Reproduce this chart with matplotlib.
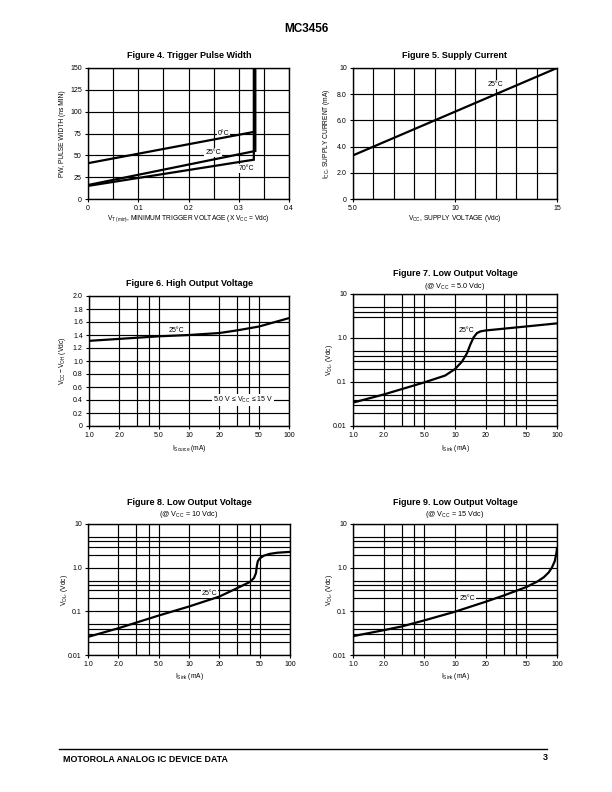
import matplotlib
matplotlib.use('Agg')
import matplotlib.pyplot as plt
from matplotlib.ticker import FixedLocator, NullFormatter

plt.rcParams['font.family'] = ['Liberation Sans', 'DejaVu Sans']
plt.rcParams['mathtext.fontset'] = 'custom'
plt.rcParams['mathtext.rm'] = 'Liberation Sans'
plt.rcParams['mathtext.it'] = 'Liberation Sans:italic'
plt.rcParams['mathtext.bf'] = 'Liberation Sans:bold'

# ---------------- data ----------------
# Figure 4: Trigger pulse width vs minimum trigger voltage
fig4_x_0C = [0.0, 0.332, 0.332]
fig4_y_0C = [41, 77, 150]
fig4_x_25C = [0.0, 0.333, 0.333]
fig4_y_25C = [16, 55, 150]
fig4_x_70C = [0.0, 0.330, 0.330]
fig4_y_70C = [15, 45, 150]

# Figure 5: supply current vs supply voltage
fig5_vcc = [5.0, 15.0]
fig5_icc = [3.33, 10.0]

# Figure 6: high output voltage drop vs source current
fig6_isource = [1, 2, 5, 10, 20, 30, 50, 100]
fig6_vdrop = [1.31, 1.34, 1.38, 1.40, 1.43, 1.47, 1.53, 1.66]

# Figure 7: low output voltage vs sink current, Vcc = 5 V
fig7_isink = [1, 2, 5, 8, 10, 11.7, 13.1, 14.1, 15.2, 16.4, 17.7, 19.8, 50, 100]
fig7_vol = [0.034, 0.052, 0.098, 0.14, 0.197, 0.29, 0.45, 0.70, 1.03, 1.29, 1.41, 1.48, 1.83, 2.15]

# Figure 8: low output voltage vs sink current, Vcc = 10 V
fig8_isink = [1, 2, 5, 10, 20, 30, 40, 44, 46, 47, 48, 50, 55, 63, 75, 100]
fig8_vol = [0.026, 0.041, 0.080, 0.129, 0.218, 0.34, 0.47, 0.58, 0.75, 1.1, 1.4, 1.62, 1.88, 2.07, 2.2, 2.3]

# Figure 9: low output voltage vs sink current, Vcc = 15 V
fig9_isink = [1, 2, 3, 5, 10, 20, 30, 50, 64, 74, 83, 89, 95, 98.5, 100]
fig9_vol = [0.027, 0.037, 0.045, 0.062, 0.098, 0.166, 0.23, 0.36, 0.48, 0.6, 0.78, 1.0, 1.4, 2.1, 2.8]

# tick labels / grid positions
fig4_xticks = [0, 0.1, 0.2, 0.3, 0.4]
fig4_xticklabels = ['0', '0.1', '0.2', '0.3', '0.4']
fig4_xgrid = [0.05, 0.1, 0.15, 0.2, 0.25, 0.3, 0.35]
fig4_yticks = [0, 25, 50, 75, 100, 125, 150]
fig4_yticklabels = ['0', '25', '50', '75', '100', '125', '150']

fig5_xticks = [5, 10, 15]
fig5_xticklabels = ['5.0', '10', '15']
fig5_xgrid = [6, 7, 8, 9, 10, 11, 12, 13, 14]
fig5_yticks = [0, 2, 4, 6, 8, 10]
fig5_yticklabels = ['0', '2.0', '4.0', '6.0', '8.0', '10']

log_xticks = [1, 2, 5, 10, 20, 50, 100]
log_xticklabels = ['1.0', '2.0', '5.0', '10', '20', '50', '100']
log_xgrid = [2, 3, 4, 5, 10, 20, 30, 40, 50]

fig6_yticks = [0, 0.2, 0.4, 0.6, 0.8, 1.0, 1.2, 1.4, 1.6, 1.8, 2.0]
fig6_yticklabels = ['0', '0.2', '0.4', '0.6', '0.8', '1.0', '1.2', '1.4', '1.6', '1.8', '2.0']

log_yticks = [0.01, 0.1, 1.0, 10]
log_yticklabels = ['0.01', '0.1', '1.0', '10']
fig7_ygrid = [0.02, 0.03, 0.04, 0.05, 0.1, 0.2, 0.3, 0.4, 0.5, 1.0, 3, 4, 5]
log_ygrid = [0.02, 0.03, 0.04, 0.05, 0.1, 0.2, 0.3, 0.4, 0.5, 1.0, 2, 3, 4, 5]

# ---------------- figure ----------------
W, H = 612, 792
fig = plt.figure(figsize=(W / 100, H / 100), dpi=100)

LW_CURVE = 1.6
LW_GRID = 0.85
TICK_FS = 5
LABEL_FS = 4.8
TITLE_FS = 6.5


def add_ax(l, t, r, b):
    return fig.add_axes([l / W, 1 - b / H, (r - l) / W, (b - t) / H])


def style(ax, xticks, xlabels, xgrid, yticks, ylabels, ygrid):
    ax.set_xticks(xticks)
    ax.set_xticklabels(xlabels)
    ax.set_yticks(yticks)
    ax.set_yticklabels(ylabels)
    ax.xaxis.set_minor_locator(FixedLocator(xgrid))
    ax.yaxis.set_minor_locator(FixedLocator(ygrid))
    ax.xaxis.set_minor_formatter(NullFormatter())
    ax.yaxis.set_minor_formatter(NullFormatter())
    ax.grid(which='both', color='black', lw=LW_GRID)
    ax.set_axisbelow(True)
    ax.tick_params(which='major', direction='out', length=2, width=0.8,
                   labelsize=TICK_FS, pad=2.5, colors='black')
    ax.tick_params(which='minor', length=0)
    for s in ax.spines.values():
        s.set_linewidth(1.0)


def labels(ax, xlab, ylab, xoff, yoff, l, t, r, b):
    w = r - l
    h = b - t
    ax.text(0.5, -xoff / h, xlab, transform=ax.transAxes, ha='center', va='center',
            fontsize=LABEL_FS)
    ax.text(-yoff / w, 0.5, ylab, transform=ax.transAxes, ha='center', va='center',
            rotation=90, fontsize=LABEL_FS)


def title(x, y, s, sub=None, suby=None):
    fig.text(x / W, 1 - y / H, s, ha='center', va='center', fontsize=TITLE_FS,
             fontweight='bold')
    if sub:
        fig.text(x / W, 1 - suby / H, sub, ha='center', va='center', fontsize=5.2)


def note(ax, x, y, s, boxed=True):
    kw = dict(fontsize=5, ha='center', va='center', zorder=1.5)
    if boxed:
        kw['bbox'] = dict(facecolor='white', edgecolor='none', pad=0.6)
    ax.text(x, y, s, **kw)


# Header / footer
fig.text(306 / W, 1 - 29 / H, 'MC3456', ha='center', va='center', fontsize=8.5,
         fontweight='bold')
fig.add_artist(plt.Line2D([59 / W, 547 / W], [1 - 749 / H, 1 - 749 / H], color='black', lw=1.0))
fig.text(63 / W, 1 - 760 / H, 'MOTOROLA ANALOG IC DEVICE DATA', ha='left', va='center',
         fontsize=6.4, fontweight='bold')
fig.text(548 / W, 1 - 757 / H, '3', ha='right', va='center', fontsize=6.5, fontweight='bold')

# ---- Figure 4 ----
p = (88, 68, 289, 199)
ax = add_ax(*p)
ax.set_xlim(0, 0.4)
ax.set_ylim(0, 150)
style(ax, fig4_xticks, fig4_xticklabels, fig4_xgrid, fig4_yticks, fig4_yticklabels, fig4_yticks)
ax.plot(fig4_x_0C, fig4_y_0C, color='black', lw=LW_CURVE, solid_joinstyle='miter')
ax.plot(fig4_x_25C, fig4_y_25C, color='black', lw=LW_CURVE, solid_joinstyle='miter')
ax.plot(fig4_x_70C, fig4_y_70C, color='black', lw=LW_CURVE, solid_joinstyle='miter')
note(ax, 0.27, 75, '0°C')
note(ax, 0.249, 53, '25°C')
note(ax, 0.315, 35, '70°C')
labels(ax, r'$\mathregular{V_{T\ (min)}}$, MINIMUM TRIGGER VOLTAGE (X $\mathregular{V_{CC}}$ = Vdc)',
       'PW, PULSE WIDTH (ns MIN)', 20, 25, *p)
title(189, 56, 'Figure 4. Trigger Pulse Width')

# ---- Figure 5 ----
p = (353, 68, 557, 199)
ax = add_ax(*p)
ax.set_xlim(5, 15)
ax.set_ylim(0, 10)
style(ax, fig5_xticks, fig5_xticklabels, fig5_xgrid, fig5_yticks, fig5_yticklabels, fig5_yticks)
ax.plot(fig5_vcc, fig5_icc, color='black', lw=LW_CURVE)
note(ax, 12.0, 8.75, '25°C')
labels(ax, r'$\mathregular{V_{CC}}$, SUPPLY VOLTAGE (Vdc)',
       r'$\mathregular{I_{CC}}$, SUPPLY CURRENT (mA)', 20, 26, *p)
title(455, 56, 'Figure 5. Supply Current')

# ---- Figure 6 ----
p = (89, 296, 289, 426)
ax = add_ax(*p)
ax.set_xscale('log')
ax.set_xlim(1, 100)
ax.set_ylim(0, 2.0)
style(ax, log_xticks, log_xticklabels, log_xgrid, fig6_yticks, fig6_yticklabels, fig6_yticks)
ax.plot(fig6_isource, fig6_vdrop, color='black', lw=LW_CURVE)
note(ax, 7.5, 1.47, '25°C', boxed=False)
note(ax, 35, 0.4, r'5.0 V ≤ $\mathregular{V_{CC}}$ ≤ 15 V')
labels(ax, r'$\mathregular{I_{Source}}$ (mA)', r'$\mathregular{V_{CC}-V_{OH}}$ (Vdc)', 22, 27, *p)
title(189, 284, 'Figure 6. High Output Voltage')

# ---- Figure 7 ----
p = (353, 294, 557, 426)
ax = add_ax(*p)
ax.set_xscale('log')
ax.set_yscale('log')
ax.set_xlim(1, 100)
ax.set_ylim(0.01, 10)
style(ax, log_xticks, log_xticklabels, log_xgrid, log_yticks, log_yticklabels, fig7_ygrid)
ax.plot(fig7_isink, fig7_vol, color='black', lw=LW_CURVE)
note(ax, 13.0, 1.5, '25°C', boxed=False)
labels(ax, r'$\mathregular{I_{Sink}}$ (mA)', r'$\mathregular{V_{OL}}$, (Vdc)', 22, 23, *p)
title(455, 274, 'Figure 7. Low Output Voltage', r'(@ $\mathregular{V_{CC}}$ = 5.0 Vdc)', 286)

# ---- Figure 8 ----
p = (88, 524, 290, 655)
ax = add_ax(*p)
ax.set_xscale('log')
ax.set_yscale('log')
ax.set_xlim(1, 100)
ax.set_ylim(0.01, 10)
style(ax, log_xticks, log_xticklabels, log_xgrid, log_yticks, log_yticklabels, log_ygrid)
ax.plot(fig8_isink, fig8_vol, color='black', lw=LW_CURVE)
note(ax, 15.9, 0.26, '25°C')
labels(ax, r'$\mathregular{I_{Sink}}$ (mA)', r'$\mathregular{V_{OL}}$, (Vdc)', 22, 24, *p)
title(189, 503, 'Figure 8. Low Output Voltage', r'(@ $\mathregular{V_{CC}}$ = 10 Vdc)', 515)

# ---- Figure 9 ----
p = (353, 524, 557, 655)
ax = add_ax(*p)
ax.set_xscale('log')
ax.set_yscale('log')
ax.set_xlim(1, 100)
ax.set_ylim(0.01, 10)
style(ax, log_xticks, log_xticklabels, log_xgrid, log_yticks, log_yticklabels, log_ygrid)
ax.plot(fig9_isink, fig9_vol, color='black', lw=LW_CURVE)
note(ax, 13.1, 0.2, '25°C')
labels(ax, r'$\mathregular{I_{Sink}}$ (mA)', r'$\mathregular{V_{OL}}$, (Vdc)', 22, 23, *p)
title(455, 503, 'Figure 9. Low Output Voltage', r'(@ $\mathregular{V_{CC}}$ = 15 Vdc)', 515)

fig.savefig('out.png', dpi=100, facecolor='white')
